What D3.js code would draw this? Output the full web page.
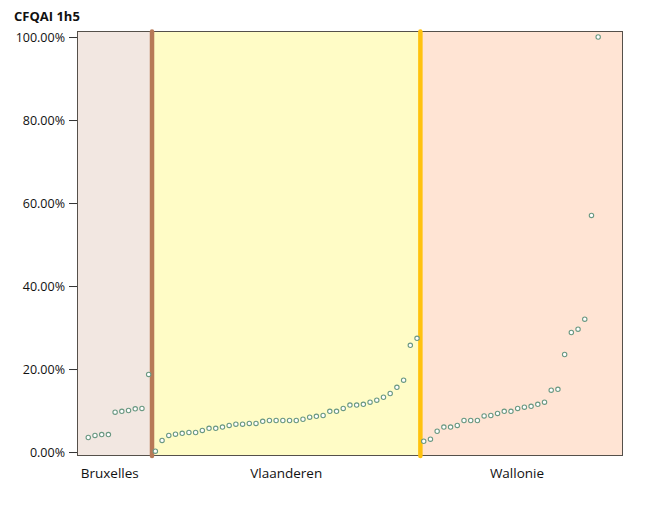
<!DOCTYPE html>
<html>
<head>
<meta charset="utf-8">
<script src="https://cdn.jsdelivr.net/npm/d3@7"></script>
<style>
  html, body { margin: 0; padding: 0; background: #ffffff; }
  svg { display: block; }
</style>
</head>
<body>
<svg id="chart" width="661" height="509"></svg>
<script>
const title = "CFQAI 1h5";
const regions = ["Bruxelles", "Vlaanderen", "Wallonie"];
const bruxelles = [0.035, 0.040, 0.042, 0.042, 0.096, 0.098, 0.100, 0.104, 0.105, 0.187];
const vlaanderen = [0.002, 0.028, 0.040, 0.043, 0.045, 0.047, 0.047, 0.052, 0.057, 0.057,
  0.060, 0.064, 0.067, 0.067, 0.069, 0.069, 0.074, 0.076, 0.076, 0.076,
  0.076, 0.076, 0.079, 0.084, 0.086, 0.088, 0.098, 0.098, 0.105, 0.113,
  0.113, 0.115, 0.120, 0.125, 0.132, 0.141, 0.156, 0.173, 0.257, 0.274];
const wallonie = [0.026, 0.031, 0.050, 0.060, 0.060, 0.064, 0.076, 0.076, 0.076, 0.087,
  0.088, 0.093, 0.098, 0.098, 0.105, 0.108, 0.110, 0.115, 0.120, 0.149,
  0.151, 0.235, 0.288, 0.296, 0.320, 0.570, 1.000];
const yTicks = [0, 0.2, 0.4, 0.6, 0.8, 1.0];
const yTickLabels = ["0.00%", "20.00%", "40.00%", "60.00%", "80.00%", "100.00%"];

const bgColors = ["#F2E7E1", "#FFFCC6", "#FFE4D4"];
const sepColors = ["#B77A57", "#FFC20E"];
const labelIdx = [3.2, 29.5, 63.9];

const svg = d3.select("#chart");
const m = { left: 77, right: 623, top: 31, bottom: 456 };

const series = [bruxelles, vlaanderen, wallonie];
const points = [];
const bounds = [];
let idx = 0;
series.forEach((arr, g) => {
  const start = idx;
  arr.forEach(v => { points.push({ i: idx, v: v, g: g }); idx++; });
  bounds.push([start, idx - 1]);
});
const n = points.length;

const x = d3.scaleLinear().domain([-1.68, n + 2.7]).range([m.left, m.right]);
const y = d3.scaleLinear().domain([-0.0096, 1.0145]).range([m.bottom, m.top]);

// region edges in index units
const edges = [x.domain()[0]];
for (let g = 0; g < bounds.length - 1; g++) edges.push(bounds[g][1] + 0.5);
edges.push(x.domain()[1]);

// backgrounds
svg.append("g").selectAll("rect").data(regions).join("rect")
  .attr("x", (d, i) => x(edges[i]))
  .attr("y", m.top)
  .attr("width", (d, i) => x(edges[i + 1]) - x(edges[i]))
  .attr("height", m.bottom - m.top)
  .attr("fill", (d, i) => bgColors[i]);

// border
svg.append("rect")
  .attr("x", m.left + 0.5).attr("y", m.top + 0.5)
  .attr("width", m.right - m.left - 1).attr("height", m.bottom - m.top - 1)
  .attr("fill", "none").attr("stroke", "#55504a").attr("stroke-width", 1);

// separators
svg.append("g").selectAll("line").data(sepColors).join("line")
  .attr("x1", (d, i) => x(edges[i + 1])).attr("x2", (d, i) => x(edges[i + 1]))
  .attr("y1", m.top + 0.5).attr("y2", m.bottom)
  .attr("stroke", d => d).attr("stroke-width", 4.5).attr("stroke-linecap", "round");

// y axis
const yAxis = d3.axisLeft(y).tickValues(yTicks).tickSize(8).tickPadding(4)
  .tickFormat((d, i) => yTickLabels[i]);
const ag = svg.append("g").attr("transform", `translate(${m.left},0)`).call(yAxis);
ag.select(".domain").remove();
ag.selectAll(".tick line").attr("stroke", "#333");
ag.selectAll(".tick text").attr("font-family", "'Open Sans', sans-serif")
  .attr("font-size", 12.5).attr("fill", "#111");

// points
svg.append("g").selectAll("circle").data(points).join("circle")
  .attr("cx", d => x(d.i)).attr("cy", d => y(d.v)).attr("r", 2.2)
  .attr("fill", "#ffffff").attr("stroke", "#6a9882").attr("stroke-width", 1.1);

// category labels
svg.append("g").selectAll("text").data(regions).join("text")
  .attr("x", (d, i) => x(labelIdx[i])).attr("y", 478)
  .attr("text-anchor", "middle")
  .attr("font-family", "'Open Sans', sans-serif").attr("font-size", 13.5)
  .attr("fill", "#111").text(d => d);

// title
svg.append("text").attr("x", 14).attr("y", 21)
  .attr("font-family", "'Open Sans', sans-serif").attr("font-size", 13)
  .attr("font-weight", "bold").attr("fill", "#111").text(title);
</script>
</body>
</html>
